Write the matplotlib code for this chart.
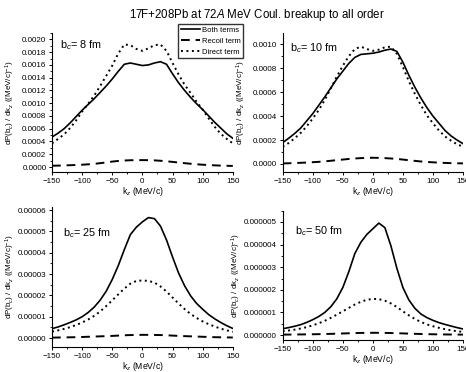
import matplotlib
matplotlib.use("Agg")
import matplotlib.pyplot as plt
from matplotlib.ticker import MultipleLocator, FormatStrFormatter
import numpy as np

plt.rcParams['font.family'] = ['Liberation Sans', 'DejaVu Sans']
plt.rcParams['mathtext.fontset'] = 'custom'
plt.rcParams['mathtext.rm'] = 'Liberation Sans'
plt.rcParams['mathtext.it'] = 'Liberation Sans:italic'

#longitudinal momentum grid (MeV/c)
kz = np.arange(-150, 151, 10)

#b_c = 8 fm  (units of 1e-4)
both_8 = [4.7, 5.3, 6.0, 6.9, 7.9, 8.9, 9.8, 10.7, 11.7, 12.7, 13.8, 15.0, 16.1, 16.3, 16.1, 15.9,
          16.0, 16.3, 16.5, 16.1, 14.6, 13.2, 12.0, 10.9, 9.9, 9.0, 8.0, 7.0, 6.1, 5.2, 4.5]
direct_8 = [3.7, 4.4, 5.1, 6.1, 7.3, 8.7, 9.9, 11.2, 12.7, 14.3, 15.9, 17.8, 19.2, 19.1, 18.5, 18.2,
            18.6, 19.1, 19.2, 18.2, 16.3, 14.5, 12.9, 11.6, 10.2, 9.0, 7.6, 6.3, 5.2, 4.4, 3.7]
recoil_8 = [0.20, 0.22, 0.25, 0.28, 0.32, 0.36, 0.42, 0.50, 0.60, 0.72, 0.85, 0.95, 1.02, 1.06, 1.08, 1.08,
            1.07, 1.04, 0.98, 0.90, 0.80, 0.70, 0.60, 0.51, 0.43, 0.36, 0.31, 0.26, 0.22, 0.19, 0.17]

#b_c = 10 fm  (units of 1e-4)
both_10 = [1.78, 2.15, 2.55, 3.0, 3.6, 4.2, 4.9, 5.6, 6.35, 7.1, 7.75, 8.4, 8.9, 9.15, 9.2, 9.25,
           9.35, 9.5, 9.6, 9.4, 8.5, 7.4, 6.4, 5.5, 4.7, 4.0, 3.4, 2.8, 2.35, 2.0, 1.7]
direct_10 = [1.45, 1.75, 2.15, 2.6, 3.15, 3.8, 4.5, 5.35, 6.3, 7.3, 8.2, 9.0, 9.6, 9.8, 9.6, 9.45,
             9.55, 9.75, 9.8, 9.2, 8.1, 6.9, 5.85, 4.9, 4.05, 3.4, 2.8, 2.3, 1.95, 1.65, 1.45]
recoil_10 = [0.05, 0.06, 0.08, 0.10, 0.12, 0.15, 0.18, 0.22, 0.27, 0.32, 0.37, 0.42, 0.46, 0.49, 0.51, 0.52,
             0.51, 0.49, 0.46, 0.42, 0.37, 0.31, 0.26, 0.21, 0.17, 0.14, 0.11, 0.09, 0.07, 0.06, 0.05]

#b_c = 25 fm  (units of 1e-5)
both_25 = [0.44, 0.52, 0.62, 0.73, 0.85, 1.0, 1.2, 1.45, 1.78, 2.2, 2.75, 3.4, 4.15, 4.85, 5.2, 5.45,
           5.65, 5.6, 5.25, 4.6, 3.8, 3.05, 2.45, 1.98, 1.62, 1.35, 1.1, 0.9, 0.73, 0.58, 0.45]
direct_25 = [0.30, 0.36, 0.43, 0.51, 0.61, 0.73, 0.87, 1.04, 1.25, 1.5, 1.77, 2.05, 2.32, 2.55, 2.68, 2.7,
             2.68, 2.6, 2.42, 2.18, 1.9, 1.62, 1.36, 1.13, 0.94, 0.78, 0.65, 0.54, 0.44, 0.36, 0.29]
recoil_25 = [0.02, 0.025, 0.03, 0.035, 0.04, 0.05, 0.06, 0.07, 0.08, 0.09, 0.10, 0.115, 0.13, 0.14, 0.145, 0.15,
             0.15, 0.145, 0.14, 0.13, 0.115, 0.10, 0.09, 0.08, 0.07, 0.06, 0.05, 0.04, 0.035, 0.03, 0.025]

#b_c = 50 fm  (units of 1e-6)
both_50 = [0.28, 0.33, 0.39, 0.46, 0.56, 0.68, 0.82, 1.0, 1.25, 1.6, 2.1, 2.8, 3.6, 4.1, 4.45, 4.7,
           4.95, 4.75, 3.95, 2.95, 2.1, 1.55, 1.18, 0.93, 0.77, 0.65, 0.55, 0.47, 0.4, 0.33, 0.27]
direct_50 = [0.17, 0.2, 0.24, 0.29, 0.35, 0.43, 0.52, 0.63, 0.76, 0.9, 1.05, 1.2, 1.35, 1.47, 1.56, 1.6,
             1.59, 1.52, 1.4, 1.24, 1.05, 0.87, 0.71, 0.58, 0.47, 0.39, 0.32, 0.26, 0.21, 0.17, 0.14]
recoil_50 = [0.02, 0.022, 0.025, 0.028, 0.031, 0.035, 0.04, 0.046, 0.053, 0.061, 0.07, 0.079, 0.087, 0.094, 0.098, 0.1,
             0.099, 0.096, 0.09, 0.082, 0.073, 0.064, 0.055, 0.047, 0.04, 0.035, 0.031, 0.027, 0.024, 0.022, 0.02]

labels = ["b$_c$= 8 fm", "b$_c$= 10 fm", "b$_c$= 25 fm", "b$_c$= 50 fm"]
scales = [1e-4, 1e-4, 1e-5, 1e-6]
series = [(both_8, recoil_8, direct_8), (both_10, recoil_10, direct_10),
          (both_25, recoil_25, direct_25), (both_50, recoil_50, direct_50)]

#axes boxes (figure fraction), y limits, y tick step, tick format, label spots
boxes = [[0.1116, 0.5376, 0.388, 0.3737], [0.6066, 0.5376, 0.387, 0.3737],
         [0.1116, 0.0672, 0.388, 0.376], [0.6066, 0.0847, 0.387, 0.349]]
ylims = [(-0.0000784, 0.0021), (-0.000067, 0.001094), (-4.2e-6, 6.14e-5), (-2.4e-7, 5.5e-6)]
ysteps = [0.0002, 0.0002, 1e-5, 1e-6]
yfmts = ['%.4f', '%.4f', '%.5f', '%.6f']
textpos = [(0.044, 0.915), (0.04, 0.89), (0.063, 0.816), (0.068, 0.846)]
ylabx = [-0.195, -0.195, -0.195, -0.222]

fig = plt.figure(figsize=(4.66, 3.72), dpi=100)

for i in range(4):
    ax = fig.add_axes(boxes[i])
    s = scales[i]
    both, recoil, direct = series[i]
    l1, = ax.plot(kz, np.array(both) * s, color='black', lw=1.2, label='Both terms')
    l2, = ax.plot(kz, np.array(recoil) * s, color='black', lw=1.4, dashes=(4.5, 3), label='Recoil term')
    l3, = ax.plot(kz, np.array(direct) * s, color='black', lw=1.4, linestyle=(0, (1, 1.8)), label='Direct term')
    ax.set_xlim(-150, 150)
    ax.set_ylim(*ylims[i])
    ax.spines['top'].set_visible(False)
    ax.spines['right'].set_visible(False)
    ax.spines['left'].set_linewidth(0.8)
    ax.spines['bottom'].set_linewidth(0.8)
    ax.xaxis.set_major_locator(MultipleLocator(50))
    ax.xaxis.set_minor_locator(MultipleLocator(25))
    ax.yaxis.set_major_locator(MultipleLocator(ysteps[i]))
    ax.yaxis.set_minor_locator(MultipleLocator(ysteps[i] / 2))
    ax.yaxis.set_major_formatter(FormatStrFormatter(yfmts[i]))
    ax.tick_params(which='major', direction='out', length=2.5, width=0.7, labelsize=5.8, pad=1.5)
    ax.tick_params(which='minor', direction='out', length=1.5, width=0.6)
    ax.set_xlabel("k$_z$ (MeV/c)", fontsize=6.2, labelpad=0)
    ax.set_ylabel("dP(b$_c$) / dk$_z$ ((MeV/c)$^{-1}$)", fontsize=5.8)
    ax.yaxis.set_label_coords(ylabx[i], 0.5)
    ax.text(textpos[i][0], textpos[i][1], labels[i], transform=ax.transAxes,
            fontsize=7.8, va='center', ha='left')
    if i == 0:
        handles = [l1, l2, l3]

fig.legend(handles=handles, loc='upper left', bbox_to_anchor=(0.382, 0.9355),
           fontsize=5.5, frameon=True, fancybox=False, edgecolor='black',
           handlelength=2.5, handletextpad=0.3, borderpad=0.35, labelspacing=0.45,
           borderaxespad=0)

fig.text(0.551, 0.96, r"17F+208Pb at 72$\it{A}$ MeV Coul. breakup to all order",
         ha='center', va='center', fontsize=8.3)

plt.savefig("out.png", dpi=100)
